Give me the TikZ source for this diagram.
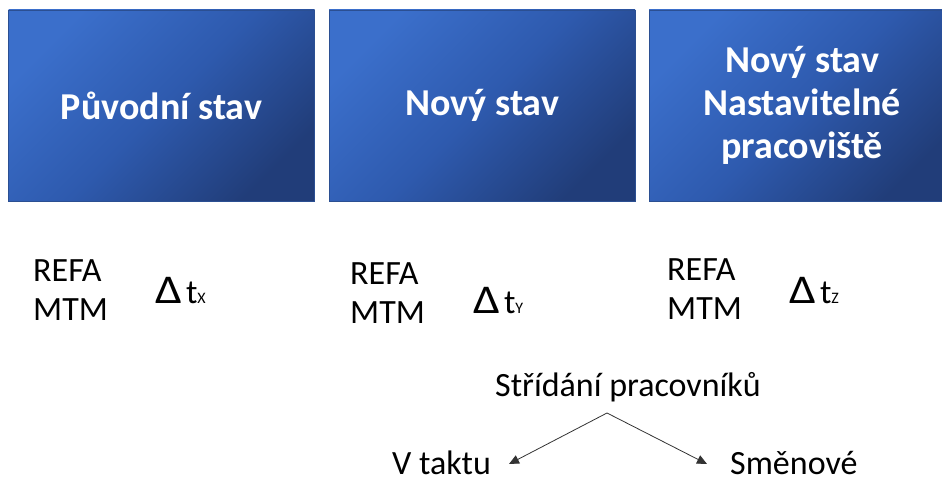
\documentclass[tikz,border=0pt]{standalone}
\usepackage{fontspec}
\usepackage{graphicx}
\setmainfont{Carlito}
\usetikzlibrary{arrows.meta}
\definecolor{boxlight}{HTML}{3B6FCB}
\definecolor{boxmid}{HTML}{2E5AAE}
\definecolor{boxdark}{HTML}{213D79}
\definecolor{boxedge}{HTML}{2B4F92}
\newcommand{\deltasym}{\scalebox{1.4}[1.2]{Δ}}
\begin{document}
\begin{tikzpicture}[x=1pt,y=-1pt,
  titlebox/.style={draw=boxedge, line width=0.8pt, top color=boxlight, bottom color=boxdark, middle color=boxmid, shading angle=45,
    minimum width=306, minimum height=191, inner sep=0pt, text=white, align=center,
    font=\fontsize{38}{43}\selectfont\bfseries},
  lbl/.style={anchor=base west, inner sep=0pt, font=\fontsize{34}{39}\selectfont, align=left},
  conn/.style={draw=black!80, line width=0.8pt, -{Triangle[length=10pt,width=9pt]}}]
\useasboundingbox (0,0) rectangle (942,481);
\node[titlebox] (b1) at (161.5,105.5) {Původní stav};
\node[titlebox] (b2) at (482,105.5) {Nový stav};
\node[titlebox] (b3) at (802,105.5) {Nový stav\\Nastavitelné\\pracoviště};

\node[lbl] (r1) at (33,281) {REFA};
\node[lbl] (m1) at (33,320) {MTM};
\node[lbl] (d1) at (155,303) {\deltasym\hspace{4pt}t{\fontsize{16}{16}\selectfont X}};

\node[lbl] (r2) at (350,284) {REFA};
\node[lbl] (m2) at (350,323) {MTM};
\node[lbl] (d2) at (473,313) {\deltasym\hspace{4pt}t{\fontsize{16}{16}\selectfont Y}};

\node[lbl] (r3) at (667,280) {REFA};
\node[lbl] (m3) at (667,319) {MTM};
\node[lbl] (d3) at (789,303) {\deltasym\hspace{4pt}t{\fontsize{16}{16}\selectfont Z}};

\node[lbl] (st) at (495,396) {Střídání pracovníků};
\node[lbl] (vt) at (392,474) {V taktu};
\node[lbl] (sm) at (730,474) {Směnové};

\coordinate (apex) at (607,413);
\coordinate (tl) at (509,464);
\coordinate (tr) at (707,464);
\draw[conn] (apex) -- (tl);
\draw[conn] (apex) -- (tr);
\end{tikzpicture}
\end{document}
